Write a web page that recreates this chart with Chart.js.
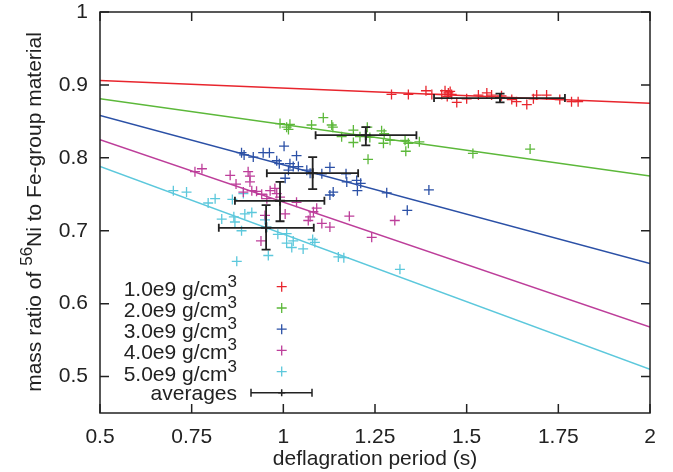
<!DOCTYPE html>
<html><head><meta charset="utf-8">
<script src="https://cdn.jsdelivr.net/npm/chart.js@4/dist/chart.umd.min.js"></script>
<style>html,body{margin:0;padding:0;background:#fff;}#wrap{width:673px;height:472px;position:relative;}</style>
</head><body><div id="wrap"><canvas id="c"></canvas></div>
<script>
// ---------- data ----------
const xTicks = [0.5, 0.75, 1, 1.25, 1.5, 1.75, 2];
const yTicks = [0.5, 0.6, 0.7, 0.8, 0.9, 1];
const densityLabels = ['1.0e9 g/cm', '2.0e9 g/cm', '3.0e9 g/cm', '4.0e9 g/cm', '5.0e9 g/cm'];
const densitySup = '3';
const averagesLabel = 'averages';
const xTitle = 'deflagration period (s)';
const yTitleParts = ['mass ratio of ', '56', 'Ni to Fe-group material'];

const pts1 = [[1.295,0.887],[1.341,0.887],[1.389,0.892],[1.405,0.887],[1.432,0.887],[1.441,0.892],[1.447,0.884],[1.450,0.889],[1.455,0.891],[1.459,0.887],[1.473,0.876],[1.500,0.881],[1.532,0.886],[1.555,0.889],[1.568,0.886],[1.595,0.885],[1.623,0.880],[1.636,0.877],[1.664,0.873],[1.682,0.881],[1.691,0.886],[1.718,0.886],[1.754,0.880],[1.786,0.877],[1.804,0.877]];
const pts2 = [[0.991,0.847],[1.009,0.842],[1.018,0.846],[1.014,0.839],[1.077,0.845],[1.109,0.855],[1.132,0.845],[1.135,0.842],[1.159,0.829],[1.191,0.838],[1.191,0.821],[1.209,0.829],[1.229,0.842],[1.236,0.828],[1.268,0.837],[1.275,0.833],[1.273,0.820],[1.291,0.824],[1.332,0.824],[1.341,0.820],[1.334,0.809],[1.371,0.822],[1.231,0.798],[1.517,0.806],[1.673,0.812]];
const pts3 = [[0.886,0.807],[0.893,0.804],[0.918,0.801],[0.945,0.807],[0.962,0.807],[1.002,0.816],[0.982,0.796],[1.036,0.803],[0.989,0.792],[1.018,0.792],[1.027,0.788],[1.041,0.788],[1.014,0.783],[1.005,0.772],[1.064,0.783],[1.073,0.779],[1.127,0.787],[1.105,0.778],[1.171,0.778],[1.173,0.767],[1.200,0.769],[1.211,0.765],[1.136,0.753],[1.127,0.749],[1.202,0.755],[1.282,0.752],[1.397,0.756],[1.338,0.728]];
const pts4 = [[0.759,0.781],[0.778,0.785],[0.855,0.776],[0.904,0.781],[0.909,0.775],[0.871,0.764],[0.909,0.767],[0.891,0.753],[0.914,0.755],[0.927,0.754],[0.941,0.750],[0.955,0.744],[0.964,0.755],[0.977,0.758],[0.982,0.751],[0.991,0.746],[1.005,0.723],[1.036,0.739],[0.950,0.721],[1.073,0.719],[1.082,0.726],[1.091,0.731],[1.105,0.710],[1.127,0.705],[1.180,0.720],[1.241,0.691],[1.304,0.714],[0.939,0.686],[1.068,0.714]];
const pts5 = [[0.700,0.755],[0.736,0.753],[0.795,0.738],[0.814,0.744],[0.861,0.743],[0.891,0.751],[0.832,0.716],[0.865,0.719],[0.868,0.712],[0.895,0.723],[0.914,0.725],[0.886,0.700],[0.950,0.715],[0.955,0.705],[0.959,0.666],[0.873,0.658],[0.985,0.695],[1.009,0.696],[1.009,0.683],[1.027,0.686],[1.023,0.677],[1.054,0.675],[1.080,0.688],[1.086,0.684],[1.150,0.664],[1.165,0.663],[1.318,0.647]];

const fitX = [0.5, 2];
const fitY05 = [0.906, 0.881, 0.858, 0.825, 0.788];
const fitY2 = [0.875, 0.775, 0.655, 0.568, 0.510];

const avgX = [1.591, 1.225, 1.080, 0.991, 0.953];
const avgY = [0.882, 0.831, 0.779, 0.741, 0.704];
const avgXLow = [1.411, 1.088, 0.955, 0.868, 0.824];
const avgXHigh = [1.768, 1.363, 1.204, 1.112, 1.083];
const avgYLow = [0.876, 0.817, 0.757, 0.713, 0.674];
const avgYHigh = [0.888, 0.842, 0.801, 0.767, 0.735];

// ---------- styles ----------
const colors = ['#e8252d', '#5cb83a', '#2b50a6', '#bd3e9a', '#5cc8dc'];
const ink = '#222222';
const FONT = '"Liberation Sans", Arial, Helvetica, sans-serif';
const FS = 21, FSUP = 17;

const allPts = [pts1, pts2, pts3, pts4, pts5];
const datasets = [];
datasets.push({
  type: 'scatter', label: averagesLabel,
  data: avgX.map((x, i) => ({x, y: avgY[i]})),
  pointStyle: 'cross', pointRadius: 5, borderColor: ink, borderWidth: 2, showLine: false
});
allPts.forEach((p, i) => {
  datasets.push({
    type: 'scatter', label: densityLabels[i] + densitySup,
    data: p.map(a => ({x: a[0], y: a[1]})),
    pointStyle: 'cross', pointRadius: 5, borderColor: colors[i], borderWidth: 1.3, showLine: false
  });
});
fitY05.forEach((y0, i) => {
  datasets.push({
    type: 'line', label: 'fit ' + densityLabels[i],
    data: [{x: fitX[0], y: y0}, {x: fitX[1], y: fitY2[i]}],
    borderColor: colors[i], borderWidth: 1.5, pointRadius: 0, fill: false, tension: 0
  });
});

function drawCross(ctx, x, y, r, color, w) {
  ctx.save(); ctx.strokeStyle = color; ctx.lineWidth = w;
  ctx.beginPath(); ctx.moveTo(x - r, y); ctx.lineTo(x + r, y);
  ctx.moveTo(x, y - r); ctx.lineTo(x, y + r); ctx.stroke(); ctx.restore();
}
function errBar(ctx, x1, x2, y, cap) {
  ctx.beginPath(); ctx.moveTo(x1, y); ctx.lineTo(x2, y);
  ctx.moveTo(x1, y - cap); ctx.lineTo(x1, y + cap);
  ctx.moveTo(x2, y - cap); ctx.lineTo(x2, y + cap); ctx.stroke();
}

const decor = {
  id: 'decor',
  afterDatasetsDraw(chart) {
    const ctx = chart.ctx, xs = chart.scales.x, ys = chart.scales.y, a = chart.chartArea;
    // error bars
    ctx.save(); ctx.strokeStyle = ink; ctx.lineWidth = 1.8;
    for (let i = 0; i < avgX.length; i++) {
      const cx = xs.getPixelForValue(avgX[i]), cy = ys.getPixelForValue(avgY[i]);
      const xl = xs.getPixelForValue(avgXLow[i]), xh = xs.getPixelForValue(avgXHigh[i]);
      const yl = ys.getPixelForValue(avgYLow[i]), yh = ys.getPixelForValue(avgYHigh[i]);
      errBar(ctx, xl, xh, cy, 4);
      ctx.beginPath(); ctx.moveTo(cx, yl); ctx.lineTo(cx, yh);
      ctx.moveTo(cx - 4.5, yl); ctx.lineTo(cx + 4.5, yl);
      ctx.moveTo(cx - 4.5, yh); ctx.lineTo(cx + 4.5, yh); ctx.stroke();
    }
    ctx.restore();
    // border + ticks
    ctx.save(); ctx.strokeStyle = ink; ctx.lineWidth = 1.5;
    ctx.strokeRect(a.left, a.top, a.right - a.left, a.bottom - a.top);
    ctx.beginPath();
    const tl = 9;
    xTicks.forEach(v => { const px = xs.getPixelForValue(v);
      ctx.moveTo(px, a.bottom); ctx.lineTo(px, a.bottom - tl);
      ctx.moveTo(px, a.top); ctx.lineTo(px, a.top + tl); });
    yTicks.forEach(v => { const py = ys.getPixelForValue(v);
      ctx.moveTo(a.left, py); ctx.lineTo(a.left + tl, py);
      ctx.moveTo(a.right, py); ctx.lineTo(a.right - tl, py); });
    ctx.stroke(); ctx.restore();
    // legend
    ctx.save(); ctx.fillStyle = ink; ctx.textBaseline = 'alphabetic';
    const right = 237, rowY = [286.7, 308, 329.2, 350.4, 371.6, 392.8], mx = 281.7;
    for (let i = 0; i < densityLabels.length; i++) {
      ctx.font = FS + 'px ' + FONT; const w1 = ctx.measureText(densityLabels[i]).width;
      ctx.font = FSUP + 'px ' + FONT; const w2 = ctx.measureText(densitySup).width;
      const x0 = right - w1 - w2, base = rowY[i] + 9;
      ctx.font = FS + 'px ' + FONT; ctx.textAlign = 'left';
      ctx.fillText(densityLabels[i], x0, base);
      ctx.font = FSUP + 'px ' + FONT; ctx.fillText(densitySup, x0 + w1, base - 9);
      drawCross(ctx, mx, rowY[i], 5, colors[i], 1.3);
    }
    ctx.font = FS + 'px ' + FONT; ctx.textAlign = 'right';
    ctx.fillText(averagesLabel, right, rowY[5] + 7);
    ctx.strokeStyle = ink; ctx.lineWidth = 1.5;
    errBar(ctx, 251, 312, rowY[5], 4);
    drawCross(ctx, mx, rowY[5], 3.5, ink, 1.5);
    ctx.restore();
    // axis titles
    ctx.save(); ctx.fillStyle = ink; ctx.font = FS + 'px ' + FONT;
    ctx.textAlign = 'center'; ctx.textBaseline = 'alphabetic';
    ctx.fillText(xTitle, (a.left + a.right) / 2, 465);
    ctx.translate(41, 212); ctx.rotate(-Math.PI / 2);
    ctx.font = FS + 'px ' + FONT; const t1 = ctx.measureText(yTitleParts[0]).width;
    const t3 = ctx.measureText(yTitleParts[2]).width;
    ctx.font = FSUP + 'px ' + FONT; const t2 = ctx.measureText(yTitleParts[1]).width;
    let sx = -(t1 + t2 + t3) / 2;
    ctx.textAlign = 'left';
    ctx.font = FS + 'px ' + FONT; ctx.fillText(yTitleParts[0], sx, 0); sx += t1;
    ctx.font = FSUP + 'px ' + FONT; ctx.fillText(yTitleParts[1], sx, -9); sx += t2;
    ctx.font = FS + 'px ' + FONT; ctx.fillText(yTitleParts[2], sx, 0);
    ctx.restore();
  }
};

new Chart(document.getElementById('c'), {
  data: { datasets },
  options: {
    responsive: true, maintainAspectRatio: false, animation: false,
    layout: { padding: { left: 0, right: 23, top: 12, bottom: 0 } },
    plugins: { legend: { display: false }, tooltip: { enabled: false } },
    scales: {
      x: { type: 'linear', min: 0.5, max: 2,
        grid: { display: false, drawTicks: false }, border: { display: false },
        afterBuildTicks: s => { s.ticks = xTicks.map(v => ({value: v})); },
        afterFit: s => { s.height = 59; s.paddingLeft = 0; s.paddingRight = 0; },
        ticks: { padding: 12, color: ink, font: { family: FONT, size: FS }, maxRotation: 0,
          callback: v => String(v) } },
      y: { type: 'linear', min: 0.45, max: 1,
        grid: { display: false, drawTicks: false }, border: { display: false },
        afterBuildTicks: s => { s.ticks = yTicks.map(v => ({value: v})); },
        afterFit: s => { s.width = 100; s.paddingTop = 0; s.paddingBottom = 0; },
        ticks: { padding: 12, color: ink, font: { family: FONT, size: FS },
          callback: v => String(v) } }
    }
  },
  plugins: [decor]
});
</script></body></html>
